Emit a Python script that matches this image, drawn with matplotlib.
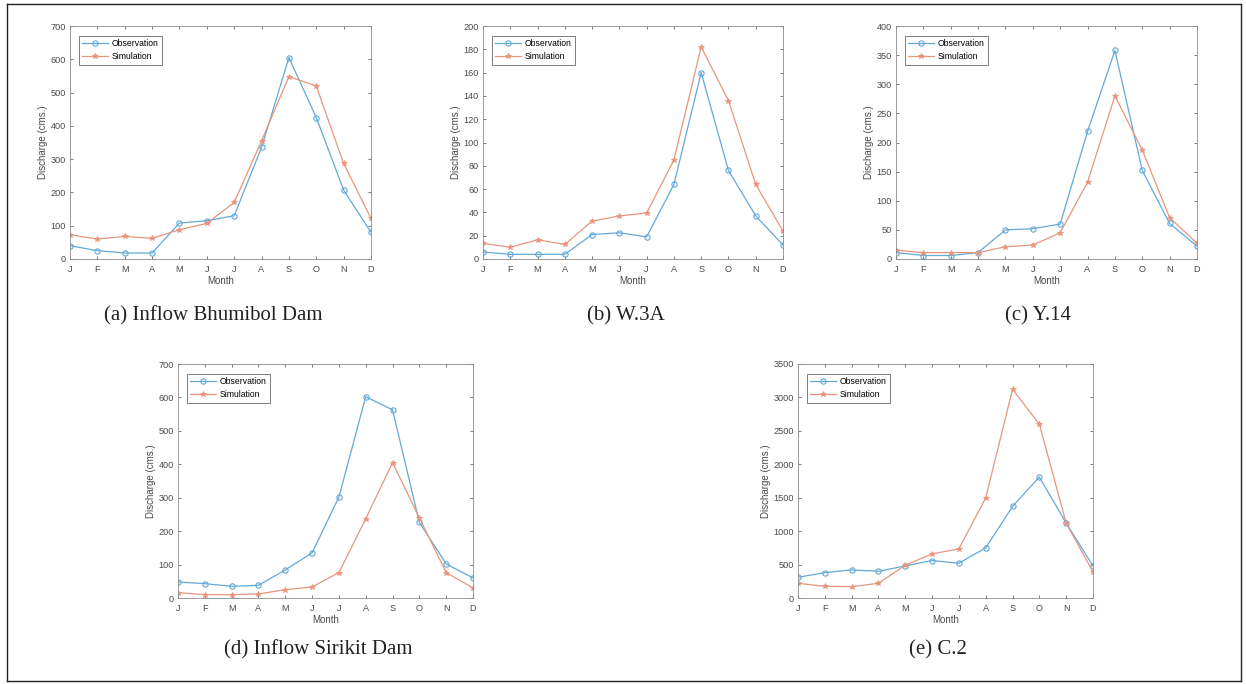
import numpy as np
import matplotlib
matplotlib.use('Agg')
import matplotlib.pyplot as plt
from matplotlib.lines import Line2D

plt.rcParams['font.family'] = ['Liberation Sans', 'DejaVu Sans']

months = ['J', 'F', 'M', 'A', 'M', 'J', 'J', 'A', 'S', 'O', 'N', 'D']

# (a) Inflow Bhumibol Dam
obs_a = [40, 25, 18, 18, 108, 115, 130, 335, 605, 425, 207, 80]
sim_a = [73, 60, 68, 62, 88, 107, 170, 355, 548, 520, 287, 122]
# (b) W.3A
obs_b = [6, 4, 4, 4, 21, 22.5, 19, 64, 160, 76, 37, 12]
sim_b = [13.5, 10, 16.5, 12.5, 32.5, 37, 39.5, 85, 182, 136, 64, 24]
# (c) Y.14
obs_c = [11, 6, 6, 11, 50, 52, 60, 219, 358, 152, 61, 22]
sim_c = [15, 11, 11, 11, 21, 24, 45, 132, 280, 187, 71, 27]
# (d) Inflow Sirikit Dam
obs_d = [48, 43, 35, 38, 84, 135, 302, 602, 563, 226, 102, 60]
sim_d = [16, 10, 10, 12, 25, 33, 76, 237, 405, 240, 76, 30]
# (e) C.2
obs_e = [310, 380, 420, 400, 480, 560, 520, 750, 1370, 1810, 1120, 480]
sim_e = [220, 175, 170, 220, 490, 660, 735, 1500, 3120, 2600, 1120, 390]

captions = ['(a) Inflow Bhumibol Dam', '(b) W.3A', '(c) Y.14',
            '(d) Inflow Sirikit Dam', '(e) C.2']
ymax = [700, 200, 400, 700, 3500]
ystep = [100, 20, 50, 100, 500]

W, H = 1246, 684
fig = plt.figure(figsize=(W / 100, H / 100), dpi=100)

# axes boxes in pixels: left, top, right, bottom
boxes = [(70, 26, 371, 259), (483, 26, 783, 259), (896, 26, 1197, 259),
         (178, 364, 473, 598), (798, 364, 1093, 598)]
cap_pos = [(213, 316), (626, 316), (1038, 316), (318, 650), (938, 650)]

blue = '#62a9d8'
orange = '#e8957c'
grey = '#4a4a4a'

data = [(obs_a, sim_a), (obs_b, sim_b), (obs_c, sim_c), (obs_d, sim_d), (obs_e, sim_e)]
x = np.arange(1, 13)

for i in range(5):
    l, t, r, b = boxes[i]
    ax = fig.add_axes([l / W, 1 - b / H, (r - l) / W, (b - t) / H])
    obs, sim = data[i]
    ax.plot(x, obs, color=blue, lw=0.9, marker='o', ms=3.8, mfc='none', mew=0.8,
            label='Observation')
    ax.plot(x, sim, color=orange, lw=0.9, marker='*', ms=4.2, mew=0.6,
            label='Simulation')
    ax.set_xlim(1, 12)
    ax.set_ylim(0, ymax[i])
    ax.set_xticks(x)
    ax.set_xticklabels(months)
    ax.set_yticks(np.arange(0, ymax[i] + 1, ystep[i]))
    ax.tick_params(direction='in', length=2.5, width=0.5, labelsize=6.6,
                   colors=grey, top=True, right=True)
    ax.tick_params(axis='x', pad=4)
    ax.tick_params(axis='y', pad=3)
    for s in ax.spines.values():
        s.set_color('#8c8c8c')
        s.set_linewidth(0.6)
    ax.set_xlabel('Month', fontsize=7, color=grey, labelpad=2)
    ax.set_ylabel('Discharge (cms.)', fontsize=7, color=grey, labelpad=2)
    leg = ax.legend(loc='upper left', fontsize=6.2, frameon=True, fancybox=False,
                    borderpad=0.4, handlelength=3.0, handletextpad=0.4,
                    labelspacing=0.45, borderaxespad=0,
                    bbox_to_anchor=(9 / (r - l), 1 - 10 / (b - t)))
    leg.get_frame().set_edgecolor('#444444')
    leg.get_frame().set_linewidth(0.6)
    cx, cy = cap_pos[i]
    fig.text(cx / W, 1 - cy / H, captions[i], ha='center', va='center',
             fontsize=15, family='Liberation Serif', color='#222222')

# table border
for (x0, y0, x1, y1) in [(7, 4, 1241, 4), (7, 681, 1241, 681),
                         (7, 4, 7, 681), (1241, 4, 1241, 681)]:
    fig.add_artist(Line2D([x0 / W, x1 / W], [1 - y0 / H, 1 - y1 / H],
                          color='#222222', lw=1.0))

fig.savefig('out.png', dpi=100)
